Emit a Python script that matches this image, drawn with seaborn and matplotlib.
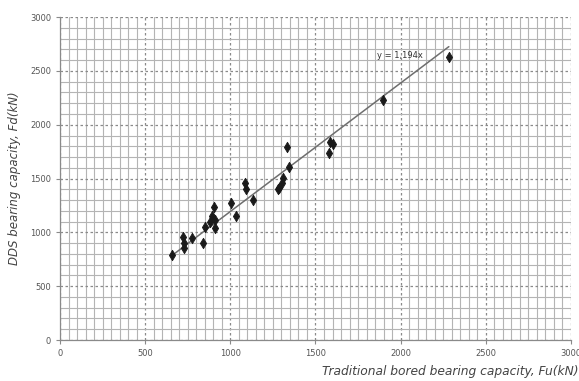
import numpy as np
import pandas as pd
from matplotlib import pyplot as plt
from matplotlib.ticker import MultipleLocator
import seaborn as sns

# values
fu_kn = [655, 725, 728, 730, 775, 840, 852, 880, 890, 905, 910, 912,
         1002, 1031, 1086, 1092, 1131, 1280, 1285, 1301, 1311, 1331, 1344,
         1581, 1585, 1600, 1898, 2283]
fd_kn = [790, 957, 901, 855, 947, 900, 1050, 1100, 1152, 1238, 1115, 1040,
         1276, 1152, 1458, 1402, 1300, 1400, 1412, 1456, 1502, 1796, 1610,
         1734, 1842, 1820, 2230, 2626]
slope = 1.194
trend_label = "y = 1,194x"

df = pd.DataFrame({"Fu": fu_kn, "Fd": fd_kn})
trend = pd.DataFrame({"Fu": [min(fu_kn), max(fu_kn)]})
trend["Fd"] = slope * trend["Fu"]

sns.set_style("white")
plt.rcParams["font.family"] = ["DejaVu Sans"]

fig = plt.figure(figsize=(5.79, 3.81), dpi=100)
ax = fig.add_axes([0.1036, 0.1076, 0.8825, 0.8474])

sns.lineplot(data=trend, x="Fu", y="Fd", ax=ax, color="#6e6e6e", linewidth=1.1, zorder=3)
sns.scatterplot(data=df, x="Fu", y="Fd", ax=ax, marker="d", s=28, color="#1a1a1a",
                edgecolor="#1a1a1a", linewidth=0.6, zorder=4)

ax.set_xlim(0, 3000)
ax.set_ylim(0, 3000)
ax.xaxis.set_major_locator(MultipleLocator(500))
ax.yaxis.set_major_locator(MultipleLocator(500))
ax.xaxis.set_minor_locator(MultipleLocator(50))
ax.yaxis.set_minor_locator(MultipleLocator(100))
ax.grid(which="minor", color="#b4b4b4", linewidth=0.8, linestyle="-")
ax.grid(which="major", color="#8a8a8a", linewidth=0.9, linestyle=(0, (2, 2)))
ax.set_axisbelow(True)

for side in ["top", "right"]:
    ax.spines[side].set_visible(False)
for side in ["left", "bottom"]:
    ax.spines[side].set_color("#8a8a8a")
    ax.spines[side].set_linewidth(0.9)

ax.tick_params(which="major", labelsize=6, colors="#8a8a8a", labelcolor="#555555",
               length=3, width=0.8, left=True, bottom=True)
ax.tick_params(which="minor", length=0)

ax.text(1860, 2648, trend_label, fontsize=6, color="#333333", va="center", ha="left")

ax.set_xlabel("")
ax.set_ylabel("DDS bearing capacity, Fd(kN)", fontsize=8.5, style="italic",
              color="#444444", labelpad=6)
fig.text(0.999, 0.025, "Traditional bored bearing capacity, Fu(kN)", fontsize=8.8,
         style="italic", color="#444444", ha="right", va="center")

fig.savefig("out.png", dpi=100)
plt.close(fig)
